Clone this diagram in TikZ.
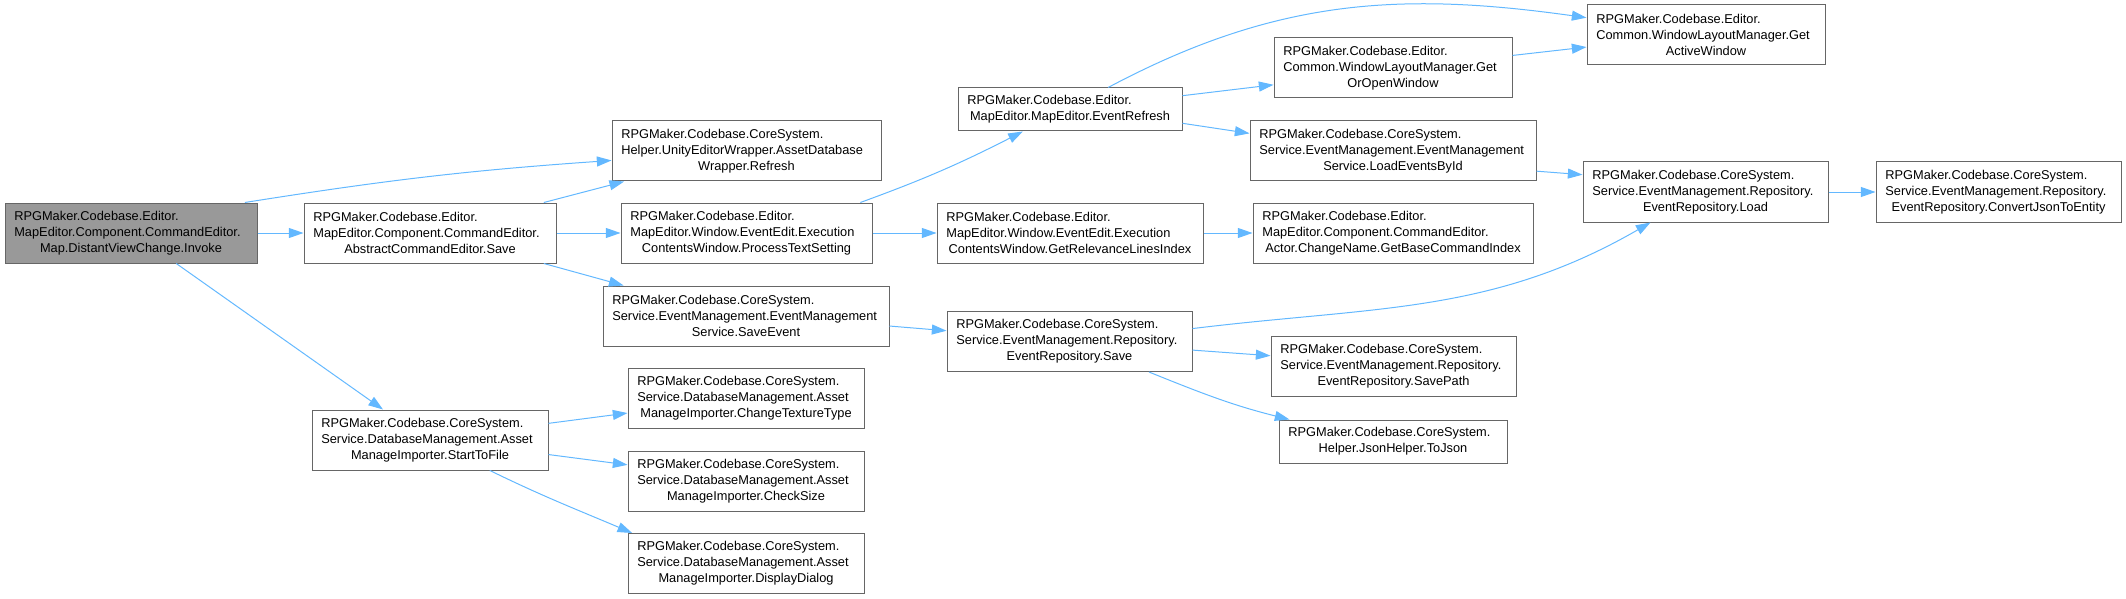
\documentclass[tikz,border=0pt]{standalone}
\usepackage{fontspec}
\setmainfont{Liberation Sans}
\usepackage{tikz}
\usetikzlibrary{arrows.meta}
\definecolor{EdgeBlue}{HTML}{63B8FF}
\definecolor{BoxLine}{HTML}{666666}
\definecolor{RootFill}{HTML}{999999}
\newcommand{\lastln}[1]{\\\makebox[\linewidth][c]{#1}}

\begin{document}
\begin{tikzpicture}[
    x=0.75pt,y=0.75pt,
    fn/.style={draw=BoxLine,line width=0.75pt,fill=white,align=left,text width=#1,
      inner xsep=7pt,inner ysep=0pt,minimum height=45pt,font=\fontsize{9.6}{12}\selectfont},
    fntwo/.style={fn=#1,minimum height=32.25pt},
    root/.style={fn=#1,fill=RootFill},
    arr/.style={-{Triangle[length=11pt,width=7.5pt]},EdgeBlue,line width=0.75pt}
  ]
  \useasboundingbox (0,0) rectangle (2126,-599);

  % caller
  \node[root=175pt] (inv) at (131,-233) {RPGMaker.Codebase.Editor.\\MapEditor.Component.CommandEditor.\lastln{Map.DistantViewChange.Invoke}};

  % first level
  \node[fn=175pt] (save) at (430,-233) {RPGMaker.Codebase.Editor.\\MapEditor.Component.CommandEditor.\lastln{AbstractCommandEditor.Save}};
  \node[fn=163pt] (start) at (430,-440) {RPGMaker.Codebase.CoreSystem.\\Service.DatabaseManagement.Asset\lastln{ManageImporter.StartToFile}};

  % second level
  \node[fn=187.75pt] (refresh) at (746.5,-151) {RPGMaker.Codebase.CoreSystem.\\Helper.UnityEditorWrapper.AssetDatabase\lastln{Wrapper.Refresh}};
  \node[fn=174.25pt] (proc) at (746.5,-233) {RPGMaker.Codebase.Editor.\\MapEditor.Window.EventEdit.Execution\lastln{ContentsWindow.ProcessTextSetting}};
  \node[fn=200.5pt] (saveev) at (746,-316) {RPGMaker.Codebase.CoreSystem.\\Service.EventManagement.EventManagement\lastln{Service.SaveEvent}};
  \node[fn=163pt] (chtex) at (746,-398.5) {RPGMaker.Codebase.CoreSystem.\\Service.DatabaseManagement.Asset\lastln{ManageImporter.ChangeTextureType}};
  \node[fn=163pt] (chsize) at (746,-481.5) {RPGMaker.Codebase.CoreSystem.\\Service.DatabaseManagement.Asset\lastln{ManageImporter.CheckSize}};
  \node[fn=163pt] (dialog) at (746,-563.5) {RPGMaker.Codebase.CoreSystem.\\Service.DatabaseManagement.Asset\lastln{ManageImporter.DisplayDialog}};

  % third level
  \node[fntwo=154pt] (evref) at (1070,-109.5) {RPGMaker.Codebase.Editor.\lastln{MapEditor.MapEditor.EventRefresh}};
  \node[fn=185.5pt] (relev) at (1070,-233) {RPGMaker.Codebase.Editor.\\MapEditor.Window.EventEdit.Execution\lastln{ContentsWindow.GetRelevanceLinesIndex}};
  \node[fn=169.75pt] (repsave) at (1069.5,-341.5) {RPGMaker.Codebase.CoreSystem.\\Service.EventManagement.Repository.\lastln{EventRepository.Save}};

  % fourth level
  \node[fn=164.5pt] (getopen) at (1393,-68) {RPGMaker.Codebase.Editor.\\Common.WindowLayoutManager.Get\lastln{OrOpenWindow}};
  \node[fn=200.5pt] (loadev) at (1393,-151) {RPGMaker.Codebase.CoreSystem.\\Service.EventManagement.EventManagement\lastln{Service.LoadEventsById}};
  \node[fn=196pt] (basecmd) at (1393,-233) {RPGMaker.Codebase.Editor.\\MapEditor.Component.CommandEditor.\lastln{Actor.ChangeName.GetBaseCommandIndex}};
  \node[fn=169.75pt] (savepath) at (1393.5,-366.5) {RPGMaker.Codebase.CoreSystem.\\Service.EventManagement.Repository.\lastln{EventRepository.SavePath}};
  \node[fntwo=157pt] (tojson) at (1393,-441.5) {RPGMaker.Codebase.CoreSystem.\lastln{Helper.JsonHelper.ToJson}};

  % fifth and sixth level
  \node[fn=164.5pt] (active) at (1706,-34.5) {RPGMaker.Codebase.Editor.\\Common.WindowLayoutManager.Get\lastln{ActiveWindow}};
  \node[fn=169.75pt] (load) at (1705.5,-192) {RPGMaker.Codebase.CoreSystem.\\Service.EventManagement.Repository.\lastln{EventRepository.Load}};
  \node[fn=169.75pt] (convert) at (1998.5,-192) {RPGMaker.Codebase.CoreSystem.\\Service.EventManagement.Repository.\lastln{EventRepository.ConvertJsonToEntity}};

  % calls
  \draw[arr] (inv) -- (save);
  \draw[arr] (inv.15) to[out=9,in=184] (refresh.184);
  \draw[arr] (inv.-34) -- (start.147);
  \draw[arr] (save.15) -- (refresh.194);
  \draw[arr] (save) -- (proc);
  \draw[arr] (save.-15) -- (saveev.166);
  \draw[arr] (start.8) -- (chtex.187);
  \draw[arr] (start.-7) -- (chsize.172);
  \draw[arr] (start.-27) to[out=-26,in=157] (dialog.165);
  \draw[arr] (proc.15) to[out=20,in=207] (evref.205);
  \draw[arr] (proc) -- (relev);
  \draw[arr] (saveev.-4) -- (repsave.175);
  \draw[arr] (relev) -- (basecmd);
  \draw[arr] (evref.30) to[out=28,in=172] (active.172);
  \draw[arr] (evref.7) -- (getopen.188);
  \draw[arr] (evref.-7) -- (loadev.173);
  \draw[arr] (getopen.6) -- (active.186);
  \draw[arr] (loadev.-8) -- (load.172);
  \draw[arr] (load) -- (convert);
  \draw[arr] (repsave.6) to[out=7,in=210] (load.209);
  \draw[arr] (repsave.-4) -- (savepath.175);
  \draw[arr] (repsave.-21) to[out=-22,in=166] (tojson.168);
\end{tikzpicture}
\end{document}
